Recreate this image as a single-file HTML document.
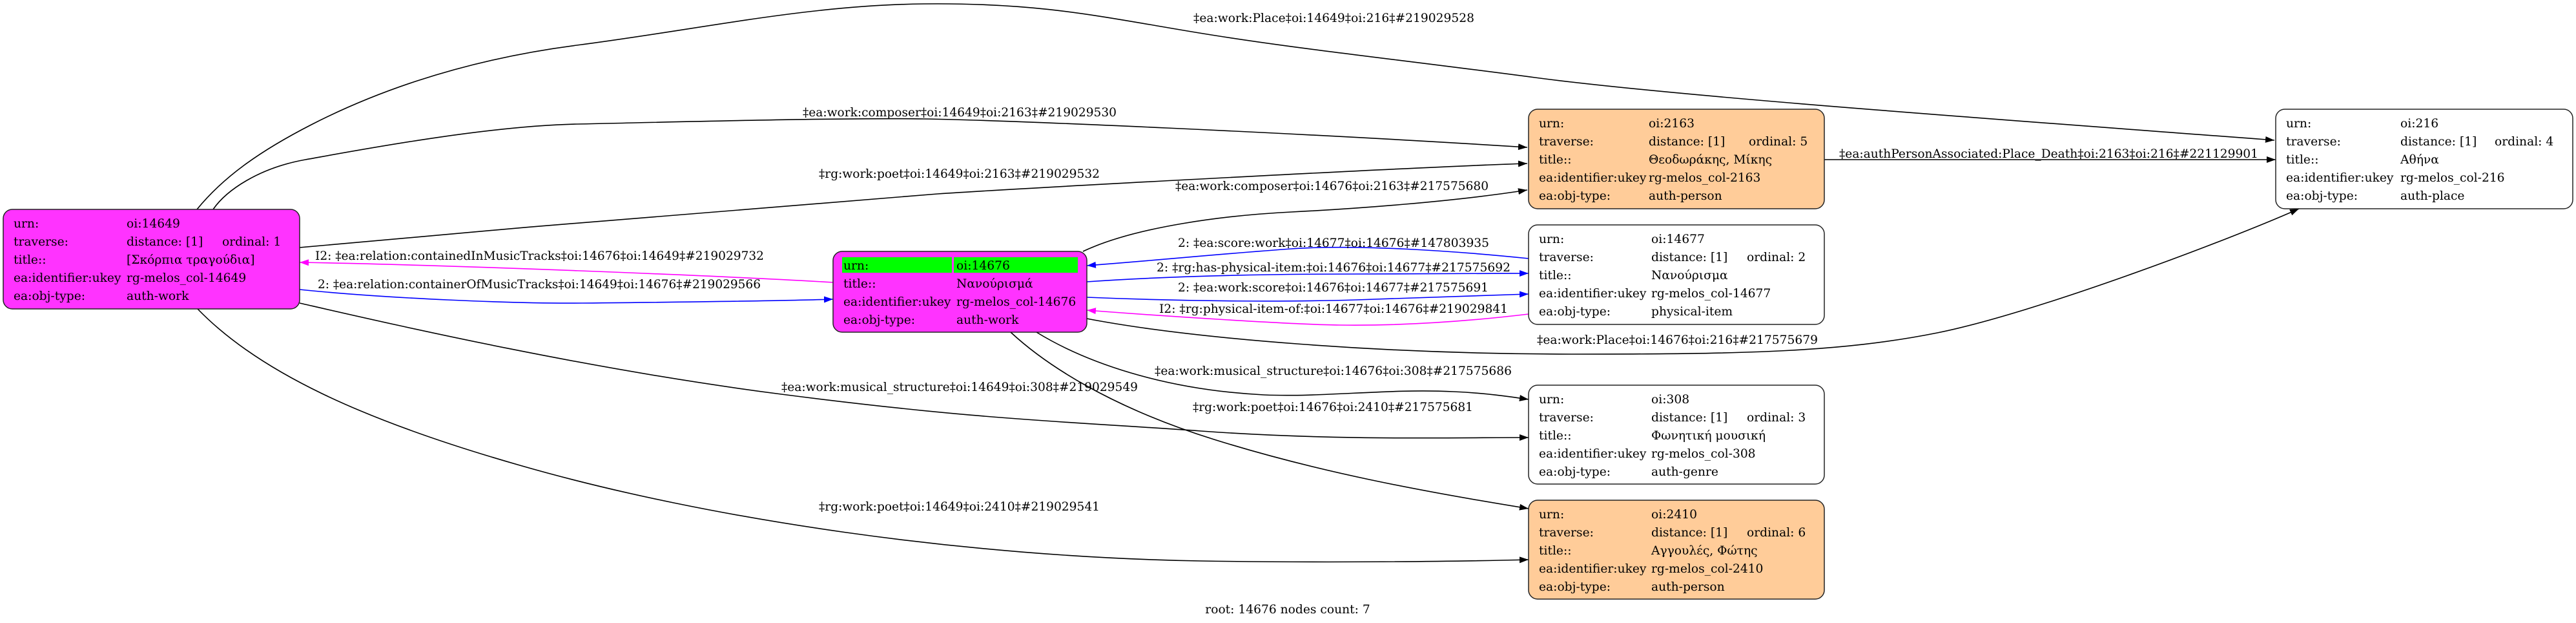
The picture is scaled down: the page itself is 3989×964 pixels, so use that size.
<!DOCTYPE html>
<html><head><meta charset="utf-8"><style>
html,body{margin:0;padding:0;background:#fff;}
svg{display:block;}
text{font-family:"DejaVu Serif","Liberation Serif",serif;font-size:18.67px;fill:#000;}
</style></head><body>
<svg xmlns="http://www.w3.org/2000/svg" width="3989" height="964" viewBox="0 0 3989 964">
<defs>
<marker id="ak" viewBox="0 0 14 10" refX="14" refY="5" markerWidth="14" markerHeight="10" markerUnits="userSpaceOnUse" orient="auto"><path d="M0,0L14,5L0,10z" fill="#000"/></marker>
<marker id="ab" viewBox="0 0 14 10" refX="14" refY="5" markerWidth="14" markerHeight="10" markerUnits="userSpaceOnUse" orient="auto"><path d="M0,0L14,5L0,10z" fill="#0000ff"/></marker>
<marker id="am" viewBox="0 0 14 10" refX="14" refY="5" markerWidth="14" markerHeight="10" markerUnits="userSpaceOnUse" orient="auto"><path d="M0,0L14,5L0,10z" fill="#ff00ff"/></marker>
</defs>
<rect width="3989" height="964" fill="#fff"/>

<!-- edges -->
<g fill="none" stroke-width="1.6">
<path stroke="#000" marker-end="url(#ak)" d="M305,324 C345,275 400,235 482,193 S700,95 893,70 S1250,8 1430,6 S1700,25 1851,50 S2150,90 2377,120 S3100,185 3522,217"/>
<path stroke="#000" marker-end="url(#ak)" d="M330,324 C350,295 400,260 473,247 S750,195 893,192 S1300,182 1430,184 S2000,205 2365,228"/>
<path stroke="#000" marker-end="url(#ak)" d="M464,383 C800,352 1300,310 1452,300 S2200,258 2365,253"/>
<path stroke="#0000ff" marker-end="url(#ab)" d="M464,448 C600,462 800,470 902,469 S1200,466 1290,463"/>
<path stroke="#ff00ff" marker-end="url(#am)" d="M1291,437 C1100,426 700,410 464,406"/>
<path stroke="#000" marker-end="url(#ak)" d="M1677,389 C1760,350 1900,333 2000,328 S2250,312 2365,294"/>
<path stroke="#0000ff" marker-end="url(#ab)" d="M2367,400 C2250,388 2100,378 2000,385 S1800,402 1683,411"/>
<path stroke="#0000ff" marker-end="url(#ab)" d="M1683,436 C1800,428 1950,424 2100,424 S2300,423 2367,423"/>
<path stroke="#0000ff" marker-end="url(#ab)" d="M1683,460 C1850,467 2000,467 2100,464 S2300,457 2367,455"/>
<path stroke="#ff00ff" marker-end="url(#am)" d="M2367,486 C2250,500 2150,504 2074,503 S1800,489 1683,480"/>
<path stroke="#000" marker-end="url(#ak)" d="M1683,493 C1850,525 2150,548 2434,548 C2700,548 2850,545 3000,515 S3450,372 3560,323"/>
<path stroke="#000" marker-end="url(#ak)" d="M1605,514 C1680,560 1800,603 1957,611 C2050,615 2150,601 2250,606 C2300,608 2340,614 2367,618"/>
<path stroke="#000" marker-end="url(#ak)" d="M1565,514 C1620,565 1720,630 1880,680 S2200,760 2367,787"/>
<path stroke="#000" marker-end="url(#ak)" d="M464,469 C600,500 900,570 1210,610 S1650,652 1860,667 S2250,677 2367,677"/>
<path stroke="#000" marker-end="url(#ak)" d="M306,478 C400,575 560,650 805,720 C1100,805 1500,862 1860,868 C2050,871 2250,869 2367,866"/>
<path stroke="#000" marker-end="url(#ak)" d="M2825,247 L3524,247"/>
</g>

<!-- edge labels -->
<text x="1848" y="34">‡ea:work:Place‡oi:14649‡oi:216‡#219029528</text>
<text x="1243" y="180" textLength="486" lengthAdjust="spacingAndGlyphs">‡ea:work:composer‡oi:14649‡oi:2163‡#219029530</text>
<text x="1268" y="275" textLength="435" lengthAdjust="spacingAndGlyphs">‡rg:work:poet‡oi:14649‡oi:2163‡#219029532</text>
<text x="1820" y="294" textLength="485" lengthAdjust="spacingAndGlyphs">‡ea:work:composer‡oi:14676‡oi:2163‡#217575680</text>
<text x="2848" y="244" textLength="649" lengthAdjust="spacingAndGlyphs">‡ea:authPersonAssociated:Place_Death‡oi:2163‡oi:216‡#221129901</text>
<text x="488" y="402" textLength="695" lengthAdjust="spacingAndGlyphs">I2: ‡ea:relation:containedInMusicTracks‡oi:14676‡oi:14649‡#219029732</text>
<text x="492" y="446" textLength="686" lengthAdjust="spacingAndGlyphs">2: ‡ea:relation:containerOfMusicTracks‡oi:14649‡oi:14676‡#219029566</text>
<text x="1824" y="382" textLength="482" lengthAdjust="spacingAndGlyphs">2: ‡ea:score:work‡oi:14677‡oi:14676‡#147803935</text>
<text x="1791" y="420" textLength="548" lengthAdjust="spacingAndGlyphs">2: ‡rg:has-physical-item:‡oi:14676‡oi:14677‡#217575692</text>
<text x="1824" y="451" textLength="481" lengthAdjust="spacingAndGlyphs">2: ‡ea:work:score‡oi:14676‡oi:14677‡#217575691</text>
<text x="1795" y="484" textLength="540" lengthAdjust="spacingAndGlyphs">I2: ‡rg:physical-item-of:‡oi:14677‡oi:14676‡#219029841</text>
<text x="2380" y="532">‡ea:work:Place‡oi:14676‡oi:216‡#217575679</text>
<text x="1788" y="580" textLength="553" lengthAdjust="spacingAndGlyphs">‡ea:work:musical_structure‡oi:14676‡oi:308‡#217575686</text>
<text x="1210" y="605" textLength="552" lengthAdjust="spacingAndGlyphs">‡ea:work:musical_structure‡oi:14649‡oi:308‡#219029549</text>
<text x="1847" y="636" textLength="434" lengthAdjust="spacingAndGlyphs">‡rg:work:poet‡oi:14676‡oi:2410‡#217575681</text>
<text x="1268" y="790" textLength="435" lengthAdjust="spacingAndGlyphs">‡rg:work:poet‡oi:14649‡oi:2410‡#219029541</text>

<!-- Node A -->
<rect x="5" y="324" width="459" height="154" rx="14" fill="#ff33ff" stroke="#222" stroke-width="1.5"/>
<text x="21" y="352">urn:</text><text x="196" y="352">oi:14649</text>
<text x="21" y="380">traverse:</text><text x="196" y="380">distance: [1]</text><text x="344" y="380">ordinal: 1</text>
<text x="21" y="408">title::</text><text x="196" y="408">[Σκόρπια τραγούδια]</text>
<text x="21" y="436">ea:identifier:ukey</text><text x="196" y="436">rg-melos_col-14649</text>
<text x="21" y="464">ea:obj-type:</text><text x="196" y="464">auth-work</text>

<!-- Node B -->
<rect x="1290" y="389" width="393" height="125" rx="14" fill="#ff33ff" stroke="#222" stroke-width="1.5"/>
<rect x="1304" y="398" width="170" height="24" fill="#00ff00"/>
<rect x="1477" y="398" width="192" height="24" fill="#00ff00"/>
<text x="1306" y="417">urn:</text><text x="1481" y="417">oi:14676</text>
<text x="1306" y="445">title::</text><text x="1481" y="445">Νανούρισμά</text>
<text x="1306" y="473">ea:identifier:ukey</text><text x="1481" y="473">rg-melos_col-14676</text>
<text x="1306" y="501">ea:obj-type:</text><text x="1481" y="501">auth-work</text>

<!-- Node C -->
<rect x="2367" y="169" width="458" height="154" rx="14" fill="#ffcc99" stroke="#222" stroke-width="1.5"/>
<text x="2383" y="197">urn:</text><text x="2553" y="197">oi:2163</text>
<text x="2383" y="225">traverse:</text><text x="2553" y="225">distance: [1]</text><text x="2708" y="225">ordinal: 5</text>
<text x="2383" y="253">title::</text><text x="2553" y="253">Θεοδωράκης, Μίκης</text>
<text x="2383" y="281">ea:identifier:ukey</text><text x="2553" y="281">rg-melos_col-2163</text>
<text x="2383" y="309">ea:obj-type:</text><text x="2553" y="309">auth-person</text>

<!-- Node D -->
<rect x="3524" y="169" width="460" height="154" rx="14" fill="#fff" stroke="#222" stroke-width="1.5"/>
<text x="3540" y="197">urn:</text><text x="3717" y="197">oi:216</text>
<text x="3540" y="225">traverse:</text><text x="3717" y="225">distance: [1]</text><text x="3863" y="225">ordinal: 4</text>
<text x="3540" y="253">title::</text><text x="3717" y="253">Αθήνα</text>
<text x="3540" y="281">ea:identifier:ukey</text><text x="3717" y="281">rg-melos_col-216</text>
<text x="3540" y="309">ea:obj-type:</text><text x="3717" y="309">auth-place</text>

<!-- Node E -->
<rect x="2367" y="348" width="458" height="154" rx="14" fill="#fff" stroke="#222" stroke-width="1.5"/>
<text x="2383" y="376">urn:</text><text x="2557" y="376">oi:14677</text>
<text x="2383" y="404">traverse:</text><text x="2557" y="404">distance: [1]</text><text x="2705" y="404">ordinal: 2</text>
<text x="2383" y="432">title::</text><text x="2557" y="432">Νανούρισμα</text>
<text x="2383" y="460">ea:identifier:ukey</text><text x="2557" y="460">rg-melos_col-14677</text>
<text x="2383" y="488">ea:obj-type:</text><text x="2557" y="488">physical-item</text>

<!-- Node F -->
<rect x="2367" y="596" width="458" height="153" rx="14" fill="#fff" stroke="#222" stroke-width="1.5"/>
<text x="2383" y="624">urn:</text><text x="2557" y="624">oi:308</text>
<text x="2383" y="652">traverse:</text><text x="2557" y="652">distance: [1]</text><text x="2705" y="652">ordinal: 3</text>
<text x="2383" y="680">title::</text><text x="2557" y="680">Φωνητική μουσική</text>
<text x="2383" y="708">ea:identifier:ukey</text><text x="2557" y="708">rg-melos_col-308</text>
<text x="2383" y="736">ea:obj-type:</text><text x="2557" y="736">auth-genre</text>

<!-- Node G -->
<rect x="2367" y="774" width="458" height="153" rx="14" fill="#ffcc99" stroke="#222" stroke-width="1.5"/>
<text x="2383" y="802">urn:</text><text x="2557" y="802">oi:2410</text>
<text x="2383" y="830">traverse:</text><text x="2557" y="830">distance: [1]</text><text x="2705" y="830">ordinal: 6</text>
<text x="2383" y="858">title::</text><text x="2557" y="858">Αγγουλές, Φώτης</text>
<text x="2383" y="886">ea:identifier:ukey</text><text x="2557" y="886">rg-melos_col-2410</text>
<text x="2383" y="914">ea:obj-type:</text><text x="2557" y="914">auth-person</text>

<text x="1994" y="949" text-anchor="middle">root: 14676 nodes count: 7</text>
</svg>
</body></html>
